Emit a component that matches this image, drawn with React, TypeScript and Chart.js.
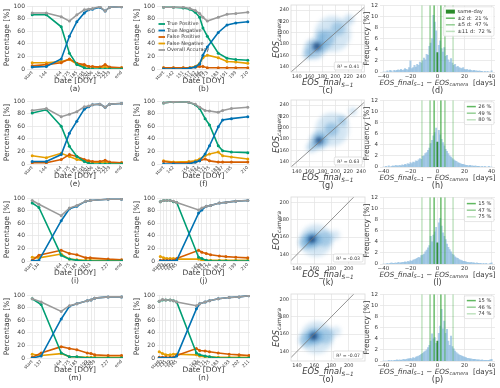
import React, { useEffect, useRef } from 'react';
import { Chart, registerables } from 'chart.js';
Chart.register(...registerables);

const FONT = "'DejaVu Sans', 'Liberation Sans', sans-serif";
const TXT = '#3a3a3a';
const GRID = '#e6e6e6';

// ---------------- shared ----------------
const seriesNames = ['True Positive', 'True Negative', 'False Positive', 'False Negative', 'Overall Accuracy'];
const seriesColors = ['#009E73', '#0072B2', '#D55E00', '#E69F00', '#9a9a9a'];
const seriesOrder = [2, 1, 3, 4, 0];
const pctTicks = [0, 20, 40, 60, 80, 100];

// ---------------- column 1 ----------------
const aDoy = [125, 144, 164, 175, 185, 195, 201, 206, 216, 223, 229, 245];
const aLabels = ['start', '144', '164', '175', '185', '195', '201', '206', '216', '223', '229', 'end'];
const aTP = [86, 86, 67, 25, 7, 2, 0, 0, 0, 0, 0, 0];
const aTN = [3, 4, 16, 52, 75, 89, 94, 95, 98, 92, 98, 99];
const aFP = [5, 7, 10, 16, 9, 7, 4, 4, 3, 7, 3, 2];
const aFN = [10, 10, 12, 15, 8, 5, 4, 3, 3, 3, 2, 2];
const aOA = [89, 89, 83, 76, 86, 94, 95, 96, 99, 92, 98, 99];

const eDoy = aDoy;
const eLabels = aLabels;
const eTP = [81, 86, 60, 28, 12, 4, 1, 0, 0, 0, 0, 0];
const eTN = [4, 4, 15, 49, 68, 87, 91, 94, 95, 90, 95, 96];
const eFP = [2, 2, 7, 15, 12, 7, 5, 4, 4, 6, 3, 2];
const eFN = [13, 10, 17, 12, 7, 5, 4, 3, 3, 3, 2, 2];
const eOA = [85, 88, 75, 79, 83, 91, 92, 94, 95, 90, 95, 96];

const iDoy = [125, 134, 164, 175, 185, 197, 203, 227, 245];
const iLabels = ['start', '134', '164', '175', '185', '197', '203', '227', 'end'];
const iTP = [92, 85, 9, 3, 1, 0, 0, 0, 0];
const iTN = [0, 1, 64, 83, 87, 95, 96, 98, 98];
const iFP = [1, 9, 17, 12, 10, 5, 5, 3, 2];
const iFN = [6, 5, 11, 3, 2, 1, 1, 1, 1];
const iOA = [96, 90, 72, 84, 88, 95, 96, 98, 98];

const mDoy = [125, 137, 164, 175, 185, 199, 204, 209, 227, 245];
const mLabels = ['start', '137', '164', '175', '185', '199', '204', '209', '227', 'end'];
const mTP = [94, 85, 8, 2, 2, 0, 0, 0, 0, 0];
const mTN = [0, 3, 62, 82, 86, 91, 92, 95, 97, 97];
const mFP = [1, 8, 18, 15, 13, 8, 7, 5, 4, 4];
const mFN = [6, 4, 7, 2, 2, 1, 1, 1, 1, 1];
const mOA = [94, 89, 74, 83, 86, 91, 92, 95, 97, 97];

// ---------------- column 2 ----------------
const bDoy = [133, 142, 151, 157, 162, 166, 169, 173, 183, 191, 199, 210];
const bLabels = ['start', '142', '151', '157', '162', '166', '169', '173', '183', '191', '199', '210'];
const bTP = [98, 98, 97, 95, 90, 82, 65, 52, 25, 17, 15, 14];
const bTN = [0, 0, 0, 1, 3, 8, 22, 35, 58, 70, 73, 75];
const bFP = [2, 2, 2, 2, 3, 4, 4, 2, 2, 2, 2, 2];
const bFN = [2, 2, 2, 2, 4, 9, 18, 22, 18, 12, 11, 9];
const bOA = [98, 98, 98, 96, 93, 88, 82, 76, 82, 87, 88, 90];

const fDoy = [133, 142, 156, 162, 166, 171, 175, 183, 187, 195, 210];
const fLabels = ['start', '142', '156', '162', '166', '171', '175', '183', '187', '195', '210'];
const fTP = [97, 99, 98, 94, 88, 72, 62, 29, 21, 19, 18];
const fTN = [0, 0, 0, 3, 5, 16, 29, 59, 70, 72, 75];
const fFP = [4, 2, 2, 3, 5, 8, 5, 3, 3, 3, 3];
const fFN = [5, 3, 4, 5, 8, 13, 16, 19, 13, 11, 8];
const fOA = [97, 99, 98, 95, 90, 85, 84, 82, 85, 88, 90];

const jDoy = [130, 133, 136, 139, 142, 145, 165, 168, 172, 176, 184, 190, 199, 210];
const jLabels = ['start', '133', '136', '139', '142', '145', '165', '168', '172', '176', '184', '190', '199', '210'];
const jTP = [94, 96, 96, 96, 94, 93, 6, 4, 1, 0, 0, 0, 0, 0];
const jTN = [0, 0, 0, 0, 0, 1, 76, 81, 87, 88, 92, 93, 95, 96];
const jFP = [1, 1, 1, 1, 1, 4, 17, 14, 12, 10, 8, 7, 6, 5];
const jFN = [7, 5, 4, 4, 4, 3, 3, 1, 1, 1, 1, 1, 1, 1];
const jOA = [94, 96, 96, 96, 95, 93, 81, 84, 87, 88, 92, 93, 95, 96];

const nDoy = [129, 132, 135, 139, 142, 145, 163, 166, 171, 175, 183, 193, 202, 211];
const nLabels = ['start', '132', '135', '139', '142', '145', '163', '166', '171', '175', '183', '193', '202', '211'];
const nTP = [90, 92, 92, 92, 91, 89, 8, 5, 3, 2, 0, 0, 0, 0];
const nTN = [0, 0, 0, 0, 0, 3, 78, 86, 89, 91, 94, 96, 97, 99];
const nFP = [1, 1, 1, 1, 1, 4, 15, 12, 11, 10, 8, 6, 5, 4];
const nFN = [10, 7, 5, 5, 6, 6, 5, 3, 2, 2, 1, 1, 1, 1];
const nOA = [90, 93, 92, 92, 91, 89, 83, 86, 89, 91, 94, 96, 97, 99];

// ---------------- column 3 (density: x, y, spread [days], density weight) ----------------
const densTicksWide = [140, 160, 180, 200, 220, 240];
const densTicksNarrow = [140, 160, 180, 200];
const densC = [[196, 198, 28, 0.22], [168, 172, 16, 0.4], [186, 190, 13, 0.38], [204, 207, 11, 0.32], [221, 223, 8, 0.28], [157, 162, 8, 0.3], [182, 175, 9, 0.22], [177, 195, 8, 0.2], [170, 175, 7, 0.62], [172, 177, 3.5, 0.95]];
const densG = [[195, 197, 26, 0.22], [175, 178, 14, 0.42], [194, 197, 11, 0.38], [211, 213, 8, 0.3], [227, 229, 6, 0.25], [163, 166, 8, 0.32], [174, 177, 6, 0.62], [175, 178, 3.2, 0.95]];
const densK = [[162, 156, 19, 0.22], [150, 154, 8, 0.32], [172, 158, 9, 0.32], [184, 162, 6, 0.2], [158, 157, 10, 0.45], [158, 158, 4.5, 0.7], [157, 157, 2.6, 0.98]];
const densO = [[163, 156, 19, 0.22], [150, 153, 8, 0.32], [173, 158, 9, 0.32], [185, 163, 6, 0.2], [160, 157, 10, 0.45], [160, 158, 4.5, 0.7], [159, 157, 2.6, 0.98]];
const r2C = 'R² = 0.41';
const r2G = 'R² = 0.63';
const r2K = 'R² = -0.03';
const r2O = 'R² = -0.07';

// ---------------- column 4 (histograms, bins of 1 day) ----------------
const histDays = [-40, -39, -38, -37, -36, -35, -34, -33, -32, -31, -30, -29, -28, -27, -26, -25, -24, -23, -22, -21,
  -20, -19, -18, -17, -16, -15, -14, -13, -12, -11, -10, -9, -8, -7, -6, -5, -4, -3, -2, -1, 0,
  1, 2, 3, 4, 5, 6, 7, 8, 9, 10, 11, 12, 13, 14, 15, 16, 17, 18, 19, 20,
  21, 22, 23, 24, 25, 26, 27, 28, 29, 30, 31, 32, 33, 34, 35, 36, 37, 38, 39, 40];
const histXTicks = [-40, -20, 0, 20, 40];
const histYTicks = [0, 2, 4, 6, 8, 10, 12];
const histD = [0, 0, 0, 0.2, 0, 0.3, 0.2, 0, 0.3, 0.2, 0.3, 0.4, 0.3, 0.5, 0.3, 0.4, 0.6, 0.5, 0.4, 0.8,
  2.0, 0.6, 0.8, 1.2, 0.9, 1.4, 1.2, 1.8, 1.6, 2.0,
  2.5, 2.2, 3.2, 3.0, 4.6, 5.2, 6.0, 10.2, 9.0, 7.4,
  3.5,
  4.8, 5.6, 4.2, 3.6, 4.4, 2.8, 3.0, 2.2, 1.8, 2.4,
  1.6, 1.2, 1.4, 0.9, 1.0, 0.8, 0.7, 0.6, 0.8, 0.5,
  0.4, 0.5, 0.3, 0.4, 0.3, 0.2, 0.3, 0.2, 0.2, 0.1, 0.2, 0.1, 0.1, 0, 0.1, 0, 0.1, 0, 0, 0.2];
const histH = [0, 0, 0.1, 0, 0.2, 0, 0.1, 0.2, 0.1, 0.3, 0.2, 0.2, 0.3, 0.2, 0.4, 0.3, 0.5, 0.4, 0.6, 0.5,
  0.8, 0.6, 0.9, 0.8, 1.1, 1.0, 1.3, 1.5, 1.4, 1.9,
  2.0, 2.4, 2.6, 3.0, 3.4, 4.2, 4.8, 5.6, 6.2, 7.0,
  4.5,
  6.6, 5.8, 5.0, 4.4, 3.8, 3.2, 2.8, 2.4, 2.0, 1.8,
  1.5, 1.3, 1.1, 1.0, 0.8, 0.7, 0.6, 0.5, 0.5, 0.4,
  0.3, 0.3, 0.2, 0.3, 0.2, 0.2, 0.1, 0.2, 0.1, 0.1, 0.1, 0, 0.1, 0, 0.1, 0, 0, 0.1, 0, 0];
const histL = [0, 0, 0, 0.1, 0, 0.1, 0.2, 0.1, 0.1, 0.2, 0.1, 0.3, 0.2, 0.2, 0.3, 0.3, 0.4, 0.3, 0.5, 0.4,
  0.6, 0.5, 0.7, 0.8, 0.9, 1.0, 1.2, 1.1, 1.5, 1.6,
  1.8, 2.2, 2.5, 2.9, 3.3, 5.0, 4.0, 5.2, 5.8, 6.6,
  3.8,
  7.4, 8.2, 6.8, 5.6, 5.0, 4.4, 3.6, 3.0, 2.6, 2.2,
  1.8, 1.6, 1.3, 1.1, 1.0, 0.8, 0.7, 0.6, 0.5, 0.5,
  0.4, 0.3, 0.3, 0.2, 0.3, 0.2, 0.2, 0.1, 0.2, 0.1, 0.1, 0.1, 0, 0.1, 0, 0.1, 0, 0, 0.1, 0.2];
const histP = [0, 0, 0, 0, 0.1, 0, 0.1, 0, 0.1, 0.1, 0.2, 0.1, 0.2, 0.1, 0.2, 0.3, 0.2, 0.3, 0.4, 0.4,
  0.5, 0.4, 0.6, 0.5, 0.7, 0.8, 0.9, 1.0, 1.2, 1.4,
  1.6, 1.8, 2.0, 2.4, 2.8, 3.6, 4.9, 4.0, 4.2, 3.2,
  3.6,
  5.0, 6.3, 9.3, 5.8, 7.2, 5.0, 5.7, 3.6, 2.8, 4.5,
  2.6, 2.2, 1.8, 1.5, 1.3, 1.1, 1.0, 0.9, 0.8, 0.7,
  0.6, 0.5, 0.5, 0.4, 0.4, 0.3, 0.3, 0.3, 0.2, 0.2, 0.2, 0.1, 0.2, 0.1, 0.1, 0.1, 0.1, 0.1, 0.2, 0.3];
const bandDays = [2, 5, 11];
const bandColors = ['rgba(44,160,44,0.75)', 'rgba(44,160,44,0.5)', 'rgba(44,160,44,0.3)'];
const sameDayColor = '#2a8a2a';
const shareD = ['21 %', '47 %', '72 %'];
const shareH = ['26 %', '49 %', '80 %'];
const shareL = ['15 %', '47 %', '75 %'];
const shareP = ['15 %', '46 %', '74 %'];

// ---------------- layout ----------------
const rowTops = [0, 95, 192, 289];
const CH = 97;

// ---------------- helpers ----------------
type Part = { t: string; it?: boolean; sub?: boolean };
function drawRich(ctx: any, parts: Part[], cx: number, cy: number, size: number, rot = 0) {
  ctx.save();
  ctx.translate(cx, cy);
  ctx.rotate(rot);
  ctx.textBaseline = 'middle';
  ctx.textAlign = 'left';
  ctx.fillStyle = TXT;
  const fontOf = (p: Part) => `${p.it ? 'italic ' : ''}${p.sub ? size * 0.7 : size}px ${FONT}`;
  let total = 0;
  for (const p of parts) { ctx.font = fontOf(p); total += ctx.measureText(p.t).width; }
  let x = -total / 2;
  for (const p of parts) {
    ctx.font = fontOf(p);
    ctx.fillText(p.t, x, p.sub ? size * 0.3 : 0);
    x += ctx.measureText(p.t).width;
  }
  ctx.restore();
}
function drawPlain(ctx: any, text: string, cx: number, cy: number, size: number) {
  ctx.save();
  ctx.font = `${size}px ${FONT}`;
  ctx.fillStyle = TXT;
  ctx.textAlign = 'center';
  ctx.textBaseline = 'middle';
  ctx.fillText(text, cx, cy);
  ctx.restore();
}
function roundRect(ctx: any, x: number, y: number, w: number, h: number, r: number) {
  ctx.beginPath();
  ctx.moveTo(x + r, y);
  ctx.lineTo(x + w - r, y); ctx.quadraticCurveTo(x + w, y, x + w, y + r);
  ctx.lineTo(x + w, y + h - r); ctx.quadraticCurveTo(x + w, y + h, x + w - r, y + h);
  ctx.lineTo(x + r, y + h); ctx.quadraticCurveTo(x, y + h, x, y + h - r);
  ctx.lineTo(x, y + r); ctx.quadraticCurveTo(x, y, x + r, y);
  ctx.closePath();
}
const fmtMinus = (v: number) => (v < 0 ? '−' + Math.abs(v) : String(v));
const tickFont = (s: number) => ({ family: FONT, size: s });

// ---------------- configs ----------------
function lineConfig(p: any) {
  const datasets = p.series.map((vals: number[], k: number) => ({
    label: seriesNames[k],
    data: p.doy.map((x: number, i: number) => ({ x, y: vals[i] })),
    borderColor: seriesColors[k],
    backgroundColor: seriesColors[k],
    borderWidth: 1.6,
    pointRadius: 1.5,
    pointBorderWidth: 0,
    order: seriesOrder[k],
    tension: 0,
  }));
  const legendPlugin = {
    id: 'lineLegend',
    afterDraw(chart: any) {
      if (!p.legend) return;
      const { ctx, chartArea: a } = chart;
      ctx.save();
      ctx.font = `5px ${FONT}`;
      ctx.textBaseline = 'middle';
      seriesNames.forEach((name, k) => {
        const cy = a.top + 18 + k * 6.5;
        ctx.strokeStyle = seriesColors[k];
        ctx.lineWidth = 1.8;
        ctx.beginPath(); ctx.moveTo(a.left + 1.5, cy); ctx.lineTo(a.left + 8, cy); ctx.stroke();
        ctx.fillStyle = TXT;
        ctx.fillText(name, a.left + 10, cy);
      });
      ctx.restore();
    },
  };
  return {
    type: 'line',
    data: { datasets },
    options: {
      animation: false, responsive: false, events: [],
      layout: { padding: { top: 6, right: p.padRight, left: 0, bottom: 0 } },
      plugins: { legend: { display: false }, tooltip: { enabled: false } },
      scales: {
        x: {
          type: 'linear', min: p.xMin, max: p.xMax,
          afterBuildTicks: (s: any) => { s.ticks = p.doy.map((v: number) => ({ value: v })); },
          afterFit: (s: any) => { s.height = CH - 69; },
          ticks: {
            autoSkip: false, minRotation: 45, maxRotation: 45, padding: 1, color: TXT, font: tickFont(4.5),
            callback: (v: number) => { const i = p.doy.indexOf(v); return i >= 0 ? p.labels[i] : ''; },
          },
          grid: { color: GRID, drawTicks: false, lineWidth: 0.8 },
          border: { display: false },
          title: { display: true, text: ['Date [DOY]', p.tag], color: TXT, font: { family: FONT, size: 7.5, lineHeight: 1.1 }, padding: { top: 0, bottom: 3.5 } },
        },
        y: {
          min: 0, max: 100,
          afterBuildTicks: (s: any) => { s.ticks = pctTicks.map((v) => ({ value: v })); },
          afterFit: (s: any) => { s.width = 27; },
          ticks: { color: TXT, font: tickFont(6), padding: 2 },
          grid: { color: GRID, drawTicks: false, lineWidth: 0.8 },
          border: { display: false },
          title: { display: true, text: 'Percentage [%]', color: TXT, font: { family: FONT, size: 7.5, lineHeight: 1.05 }, padding: { top: 3, bottom: 0 } },
        },
      },
    },
    plugins: [legendPlugin],
  };
}

function densConfig(p: any) {
  const blobs = p.blobs as number[][];
  const densPlugin = {
    id: 'dens',
    beforeDatasetDraw(chart: any, args: any) { if (args.index === 0) { chart.ctx.save(); chart.ctx.filter = 'blur(2px)'; } },
    afterDatasetDraw(chart: any, args: any) { if (args.index === 0) chart.ctx.restore(); },
    afterDatasetsDraw(chart: any) {
      const { ctx, chartArea: a, scales: { x, y } } = chart;
      ctx.save();
      ctx.beginPath(); ctx.rect(a.left, a.top, a.right - a.left, a.bottom - a.top); ctx.clip();
      const lo = Math.min(p.xMin, p.yMin), hi = Math.max(p.xMax, p.yMax);
      ctx.strokeStyle = '#777';
      ctx.lineWidth = 0.8;
      ctx.beginPath();
      ctx.moveTo(x.getPixelForValue(lo), y.getPixelForValue(lo));
      ctx.lineTo(x.getPixelForValue(hi), y.getPixelForValue(hi));
      ctx.stroke();
      ctx.restore();
      ctx.save();
      ctx.strokeStyle = '#d9d9d9'; ctx.lineWidth = 0.8;
      ctx.strokeRect(a.left, a.top, a.right - a.left, a.bottom - a.top);
      ctx.font = `4.6px ${FONT}`;
      const tw = ctx.measureText(p.r2).width;
      const bw = tw + 6, bh = 8;
      const bx = a.right - bw - 2, by = a.bottom - bh - 2;
      roundRect(ctx, bx, by, bw, bh, 1.5);
      ctx.fillStyle = 'rgba(255,255,255,0.9)'; ctx.fill();
      ctx.strokeStyle = '#cfcfcf'; ctx.lineWidth = 0.6; ctx.stroke();
      ctx.fillStyle = TXT; ctx.textBaseline = 'middle'; ctx.textAlign = 'left';
      ctx.fillText(p.r2, bx + 3, by + bh / 2 + 0.3);
      ctx.restore();
    },
    afterDraw(chart: any) {
      const { ctx, chartArea: a } = chart;
      const cx = (a.left + a.right) / 2;
      drawRich(ctx, [{ t: 'EOS_final', it: true }, { t: 'S−1', it: true, sub: true }], cx, 83, 8.3);
      drawPlain(ctx, p.tag, cx, 91, 8);
      drawRich(ctx, [{ t: 'EOS', it: true }, { t: 'camera', it: true, sub: true }], 23, (a.top + a.bottom) / 2, 8.3, -Math.PI / 2);
    },
  };
  return {
    type: 'scatter',
    data: {
      datasets: [{
        data: blobs.map((b) => ({ x: b[0], y: b[1] })),
        pointRadius: (c: any) => {
          const b = blobs[c.dataIndex];
          const sc = c.chart.scales.x;
          if (!sc) return 3;
          return Math.abs(sc.getPixelForValue(b[0] + b[2]) - sc.getPixelForValue(b[0]));
        },
        backgroundColor: (c: any) => {
          const w = blobs[c.dataIndex][3];
          return w >= 0.9 ? `rgba(8,40,90,${w})` : w >= 0.6 ? `rgba(16,80,150,${w})` : `rgba(60,140,200,${w})`;
        },
        pointBorderWidth: 0,
      }],
    },
    options: {
      animation: false, responsive: false, events: [],
      layout: { padding: { top: 5, right: 3, left: 0, bottom: 0 } },
      plugins: { legend: { display: false }, tooltip: { enabled: false } },
      scales: {
        x: {
          type: 'linear', min: p.xMin, max: p.xMax,
          afterBuildTicks: (s: any) => { s.ticks = p.ticks.map((v: number) => ({ value: v })); },
          afterFit: (s: any) => { s.height = CH - 72; },
          ticks: { color: TXT, font: tickFont(5), padding: 2, maxRotation: 0, minRotation: 0, autoSkip: false },
          grid: { color: GRID, drawTicks: false, lineWidth: 0.8 },
          border: { display: false },
        },
        y: {
          type: 'linear', min: p.yMin, max: p.yMax,
          afterBuildTicks: (s: any) => { s.ticks = p.ticks.map((v: number) => ({ value: v })); },
          afterFit: (s: any) => { s.width = 37; },
          ticks: { color: TXT, font: tickFont(5), padding: 2 },
          grid: { color: GRID, drawTicks: false, lineWidth: 0.8 },
          border: { display: false },
        },
      },
    },
    plugins: [densPlugin],
  };
}

function histConfig(p: any) {
  const histPlugin = {
    id: 'hist',
    afterDatasetsDraw(chart: any) {
      const { ctx, chartArea: a, scales: { x } } = chart;
      ctx.save();
      ctx.beginPath(); ctx.rect(a.left, a.top, a.right - a.left, a.bottom - a.top); ctx.clip();
      bandDays.forEach((w, bi) => {
        [-1, 1].forEach((sg) => {
          const px = x.getPixelForValue(sg * (w + 0.5));
          ctx.strokeStyle = bandColors[bi];
          ctx.lineWidth = 1.4;
          ctx.beginPath(); ctx.moveTo(px, a.top); ctx.lineTo(px, a.bottom); ctx.stroke();
        });
      });
      ctx.restore();
      const entries: any[] = [];
      if (p.full) entries.push({ kind: 'rect', color: sameDayColor, text: 'same-day' });
      bandDays.forEach((w, bi) => entries.push({ kind: 'line', color: bandColors[bi], text: p.full ? `±${w} d:  ${p.shares[bi]}` : p.shares[bi] }));
      ctx.save();
      ctx.font = `5.2px ${FONT}`;
      const tw = Math.max(...entries.map((e) => ctx.measureText(e.text).width));
      const rowH = 6.6, padX = 2.5, handle = 9, gap = 2.5;
      const w = padX * 2 + handle + gap + tw, h = entries.length * rowH + 3;
      const x0 = a.right - w - 1, y0 = a.top + 1.5;
      roundRect(ctx, x0, y0, w, h, 1.5);
      ctx.fillStyle = 'rgba(255,255,255,0.85)'; ctx.fill();
      ctx.strokeStyle = '#d4d4d4'; ctx.lineWidth = 0.6; ctx.stroke();
      ctx.textBaseline = 'middle'; ctx.textAlign = 'left';
      entries.forEach((e, i) => {
        const cy = y0 + 1.5 + rowH * (i + 0.5);
        if (e.kind === 'rect') {
          ctx.fillStyle = e.color; ctx.fillRect(x0 + padX, cy - 2, handle, 4);
        } else {
          ctx.strokeStyle = e.color; ctx.lineWidth = 1.5;
          ctx.beginPath(); ctx.moveTo(x0 + padX, cy); ctx.lineTo(x0 + padX + handle, cy); ctx.stroke();
        }
        ctx.fillStyle = TXT;
        ctx.fillText(e.text, x0 + padX + handle + gap, cy + 0.3);
      });
      ctx.restore();
    },
    afterDraw(chart: any) {
      const { ctx, chartArea: a } = chart;
      const cx = (a.left + a.right) / 2;
      drawRich(ctx, [
        { t: 'EOS_final', it: true }, { t: 'S−1', it: true, sub: true },
        { t: ' − EOS', it: true }, { t: 'camera', it: true, sub: true }, { t: '  [days]' },
      ], cx, 83, 7.2);
      drawPlain(ctx, p.tag, cx, 91, 8);
    },
  };
  return {
    type: 'bar',
    data: {
      datasets: [{
        data: histDays.map((d, i) => ({ x: d, y: p.values[i] })),
        backgroundColor: histDays.map((d) => (d === 0 ? sameDayColor : 'rgba(130,182,220,0.65)')),
        borderWidth: 0,
        barPercentage: 1,
        categoryPercentage: 1,
      }],
    },
    options: {
      animation: false, responsive: false, events: [],
      layout: { padding: { top: 5, right: 5, left: 0, bottom: 0 } },
      plugins: { legend: { display: false }, tooltip: { enabled: false } },
      scales: {
        x: {
          type: 'linear', min: -42.5, max: 42.5, offset: false,
          afterBuildTicks: (s: any) => { s.ticks = histXTicks.map((v) => ({ value: v })); },
          afterFit: (s: any) => { s.height = CH - 72; },
          ticks: { color: TXT, font: tickFont(5.5), padding: 1.5, maxRotation: 0, minRotation: 0, callback: (v: number) => fmtMinus(v) },
          grid: { color: GRID, drawTicks: false, lineWidth: 0.8, offset: false },
          border: { display: false },
        },
        y: {
          min: 0, max: 12,
          afterBuildTicks: (s: any) => { s.ticks = histYTicks.map((v) => ({ value: v })); },
          afterFit: (s: any) => { s.width = 18; },
          ticks: { color: TXT, font: tickFont(5.5), padding: 2 },
          grid: { color: GRID, drawTicks: false, lineWidth: 0.8 },
          border: { display: false },
          title: { display: true, text: 'Frequency [%]', color: TXT, font: { family: FONT, size: 7.5, lineHeight: 1 }, padding: { top: 1, bottom: 0 } },
        },
      },
    },
    plugins: [histPlugin],
  };
}

// ---------------- panels ----------------
const col1 = { left: 0, w: 127, xMin: 118, xMax: 247, padRight: 4 };
const col2 = { left: 130, w: 124, xMin: 127, xMax: 212, padRight: 3 };
const lineSpecs = [
  { ...col1, row: 0, doy: aDoy, labels: aLabels, series: [aTP, aTN, aFP, aFN, aOA], tag: '(a)', legend: false },
  { ...col2, row: 0, doy: bDoy, labels: bLabels, series: [bTP, bTN, bFP, bFN, bOA], tag: '(b)', legend: true },
  { ...col1, row: 1, doy: eDoy, labels: eLabels, series: [eTP, eTN, eFP, eFN, eOA], tag: '(e)', legend: false },
  { ...col2, row: 1, doy: fDoy, labels: fLabels, series: [fTP, fTN, fFP, fFN, fOA], tag: '(f)', legend: false },
  { ...col1, row: 2, doy: iDoy, labels: iLabels, series: [iTP, iTN, iFP, iFN, iOA], tag: '(i)', legend: false },
  { ...col2, row: 2, doy: jDoy, labels: jLabels, series: [jTP, jTN, jFP, jFN, jOA], tag: '(j)', legend: false },
  { ...col1, row: 3, doy: mDoy, labels: mLabels, series: [mTP, mTN, mFP, mFN, mOA], tag: '(m)', legend: false },
  { ...col2, row: 3, doy: nDoy, labels: nLabels, series: [nTP, nTN, nFP, nFN, nOA], tag: '(n)', legend: false },
];
const col3 = { left: 254, w: 114 };
const densSpecs = [
  { ...col3, row: 0, blobs: densC, r2: r2C, tag: '(c)', xMin: 131, xMax: 245, yMin: 131, yMax: 249, ticks: densTicksWide },
  { ...col3, row: 1, blobs: densG, r2: r2G, tag: '(g)', xMin: 131, xMax: 245, yMin: 131, yMax: 249, ticks: densTicksWide },
  { ...col3, row: 2, blobs: densK, r2: r2K, tag: '(k)', xMin: 133, xMax: 219, yMin: 129, yMax: 206, ticks: densTicksNarrow },
  { ...col3, row: 3, blobs: densO, r2: r2O, tag: '(o)', xMin: 133, xMax: 219, yMin: 129, yMax: 206, ticks: densTicksNarrow },
];
const col4 = { left: 362, w: 138 };
const histSpecs = [
  { ...col4, row: 0, values: histD, shares: shareD, full: true, tag: '(d)' },
  { ...col4, row: 1, values: histH, shares: shareH, full: false, tag: '(h)' },
  { ...col4, row: 2, values: histL, shares: shareL, full: false, tag: '(l)' },
  { ...col4, row: 3, values: histP, shares: shareP, full: false, tag: '(p)' },
];
const allPanels = [
  ...lineSpecs.map((s) => ({ spec: s, make: lineConfig })),
  ...densSpecs.map((s) => ({ spec: s, make: densConfig })),
  ...histSpecs.map((s) => ({ spec: s, make: histConfig })),
];

export default function App() {
  const refs = useRef<(HTMLCanvasElement | null)[]>([]);
  useEffect(() => {
    document.body.style.margin = '0';
    const charts = allPanels.map((p, i) => new Chart(refs.current[i] as HTMLCanvasElement, p.make(p.spec) as any));
    return () => charts.forEach((c) => c.destroy());
  }, []);
  return (
    <div style={{ position: 'relative', width: 500, height: 388, background: '#fff', overflow: 'hidden' }}>
      {allPanels.map((p, i) => (
        <canvas
          key={i}
          ref={(el) => { refs.current[i] = el; }}
          width={p.spec.w}
          height={CH}
          style={{ position: 'absolute', left: p.spec.left, top: rowTops[p.spec.row], width: p.spec.w, height: CH }}
        />
      ))}
    </div>
  );
}
